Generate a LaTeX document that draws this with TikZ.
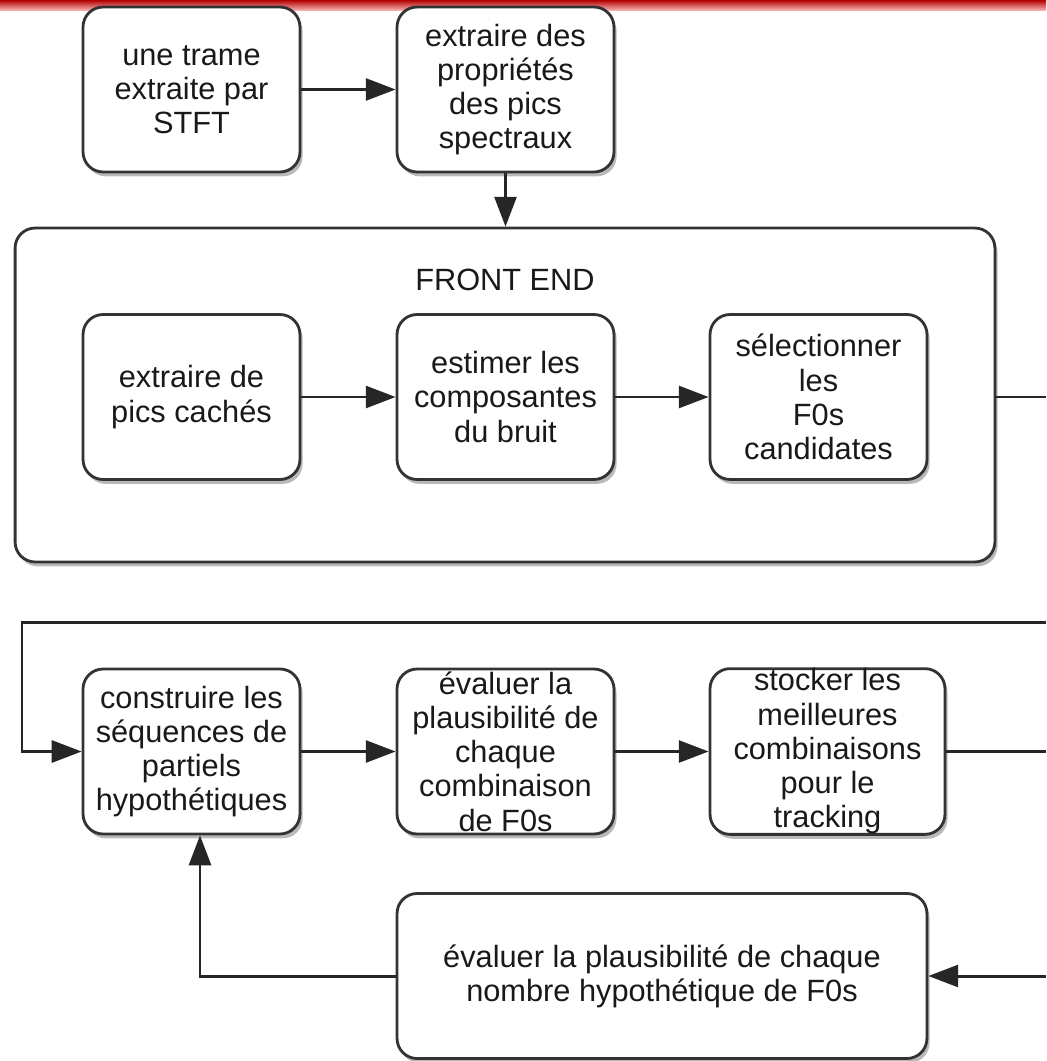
\documentclass[tikz,border=0pt]{standalone}
\usepackage{fontspec}
\setmainfont{Liberation Sans}
\usepackage{tikz}
\usetikzlibrary{arrows.meta,shadows,positioning,calc}

\begin{document}
\begin{tikzpicture}[x=0.02cm, y=-0.02cm,
        block/.style={rectangle, rounded corners=0.4cm, draw=black!80, line width=1.6pt, fill=white,
            minimum width=4.34cm, minimum height=3.3cm, inner sep=0pt, align=center,
            font=\fontsize{17.5}{19.5}\selectfont, text=black!90,
            drop shadow={shadow xshift=1.5pt, shadow yshift=-2.5pt, opacity=0.55}},
        group/.style={rectangle, rounded corners=0.4cm, draw=black!80, line width=1.6pt, fill=white,
            minimum width=19.6cm, minimum height=6.68cm,
            drop shadow={shadow xshift=1.5pt, shadow yshift=-2.5pt, opacity=0.55}},
        arrow/.style={-{Triangle[length=17pt, width=12.5pt]}, line width=1.7pt, black!85},
        wire/.style={line width=1.7pt, black!85},
        heading/.style={font=\fontsize{17.5}{19.5}\selectfont, text=black!90}
    ]
        \useasboundingbox (0,0) rectangle (1046,1061);

        % red strip on top
        \shade[top color=red!70!black, bottom color=red!25] (0,0) rectangle (1046,11);

        % first row
        \node[block] (trame) at (191.5,89.5) {une trame\\extraite par\\STFT};
        \node[block] (proprietes) at (505.5,89.5) {extraire des\\propriétés\\des pics\\spectraux};

        % Front end
        \node[group] (frontend) at (505,395) {};
        \node[heading] (frontTitle) at (505,280) {FRONT END};
        \node[block] (caches) at (191.5,397) {extraire de\\pics cachés};
        \node[block] (bruit) at (505.5,397) {estimer les\\composantes\\du bruit};
        \node[block] (candidates) at (818.5,397) {sélectionner\\les\\F0s\\candidates};

        % second row
        \node[block] (sequences) at (191.5,751.5) {construire les\\séquences de\\partiels\\hypothétiques};
        \node[block] (combinaison) at (505.5,751.5) {évaluer la\\plausibilité de\\chaque\\combinaison\\de F0s};
        \node[block, minimum width=4.7cm] (stockage) at (827.5,751.5) {stocker les\\meilleures\\combinaisons\\pour le\\tracking};
        \node[block, minimum width=10.6cm] (nombre) at (662,976) {évaluer la plausibilité de chaque\\nombre hypothétique de F0s};

        % loose ends at the right border
        \coordinate (outFront) at (1046,397);
        \coordinate (inTop) at (1046,622);
        \coordinate (loopLeft) at (22,622);
        \coordinate (outStock) at (1046,751.5);
        \coordinate (inBot) at (1046,976);

        % connectors
        \draw[arrow] (trame) -- (proprietes);
        \draw[arrow] (proprietes) -- (frontend.north -| proprietes);
        \draw[arrow] (caches) -- (bruit);
        \draw[arrow] (bruit) -- (candidates);
        \draw[wire] (frontend.east |- outFront) -- (outFront);

        \draw[arrow] (inTop) -- (loopLeft) |- (sequences.west);
        \draw[arrow] (sequences) -- (combinaison);
        \draw[arrow] (combinaison) -- (stockage);
        \draw[wire] (stockage.east) -- (outStock);

        \draw[arrow] (inBot) -- (nombre.east);
        \draw[arrow] (nombre.west) -| ($(sequences.south)+(8.5,0)$);
\end{tikzpicture}
\end{document}
